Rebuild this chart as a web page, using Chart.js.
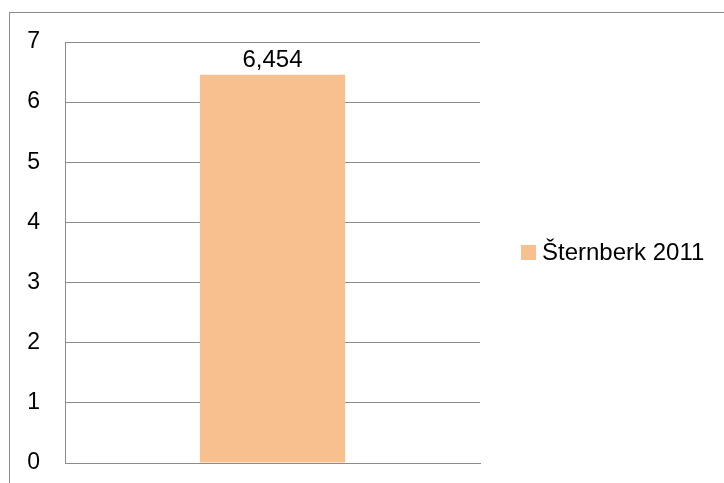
<!DOCTYPE html>
<html>
<head>
<meta charset="utf-8">
<script src="https://cdn.jsdelivr.net/npm/chart.js@4.4.1/dist/chart.umd.min.js"></script>
<style>
  html, body { margin:0; padding:0; background:#fff; }
  #wrap { width:724px; height:483px; }
</style>
</head>
<body>
<div id="wrap"><canvas id="chart" width="724" height="483"></canvas></div>
<script>
const categories = [""];
const seriesName = "Šternberk 2011";
const seriesValues = [6.454];
const yTicks = [0, 1, 2, 3, 4, 5, 6, 7];

const FONT = "'Liberation Sans', Arial, sans-serif";
const BAR = "#F9C08F";
const GRID = "#8C8C8C";

// frame + value label + legend
const extras = {
  id: "extras",
  afterDraw(chart){
    const ctx = chart.ctx;
    ctx.save();
    ctx.strokeStyle = GRID;
    ctx.lineWidth = 1;
    ctx.strokeRect(9.5, 12.5, 900, 700);

    const meta = chart.getDatasetMeta(0);
    ctx.fillStyle = "#000";
    ctx.font = "24px " + FONT;
    ctx.textAlign = "center";
    ctx.textBaseline = "bottom";
    meta.data.forEach((bar, i)=>{
      ctx.fillText(seriesValues[i].toFixed(3).replace(".", ","), bar.x, bar.y - 2);
    });

    ctx.fillStyle = BAR;
    ctx.fillRect(521, 245, 15, 15);
    ctx.fillStyle = "#000";
    ctx.font = "24px " + FONT;
    ctx.textAlign = "left";
    ctx.textBaseline = "middle";
    ctx.fillText(seriesName, 542, 253);
    ctx.restore();
  }
};

new Chart(document.getElementById("chart"), {
  type: "bar",
  data: {
    labels: categories,
    datasets: [{
      label: seriesName,
      data: seriesValues,
      backgroundColor: BAR,
      borderWidth: 0,
      barPercentage: 0.35,
      categoryPercentage: 1
    }]
  },
  options: {
    responsive: false,
    animation: false,
    devicePixelRatio: 1,
    layout: { autoPadding: false, padding: { left: 0, right: 244, top: 42, bottom: 20 } },
    plugins: { legend: { display: false }, tooltip: { enabled: false } },
    scales: {
      x: {
        grid: { display: false },
        border: { display: true, color: GRID, width: 1 },
        ticks: { display: false },
        afterFit: (axis)=>{ axis.height = 0; axis.paddingLeft = 0; axis.paddingRight = 0; }
      },
      y: {
        min: 0, max: 7,
        afterBuildTicks: (axis)=>{ axis.ticks = yTicks.map(v=>({ value: v })); },
        afterFit: (axis)=>{ axis.width = 65; axis.paddingTop = 0; axis.paddingBottom = 0; },
        grid: { color: GRID, lineWidth: 1, drawTicks: false },
        border: { display: true, color: GRID, width: 1 },
        ticks: { color: "#000", font: { family: FONT, size: 23 }, padding: 25 }
      }
    }
  },
  plugins: [extras]
});
</script>
</body>
</html>
